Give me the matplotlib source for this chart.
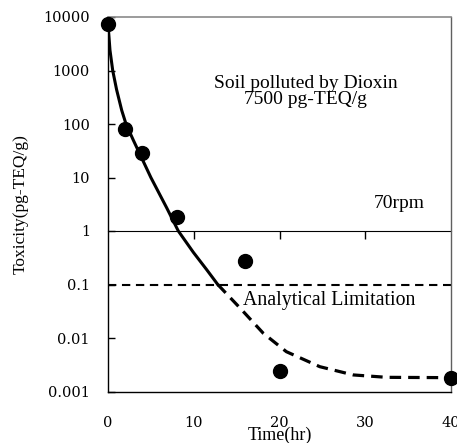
import matplotlib
matplotlib.use("Agg")
import matplotlib.pyplot as plt
from matplotlib.ticker import FixedLocator, FixedFormatter, NullLocator

# ---- data ----
time_hr = [0, 2, 4, 8, 16, 20, 40]
toxicity = [7500, 80, 29, 1.85, 0.275, 0.00245, 0.00178]

fit_solid_x = [0, 0.23, 0.55, 1.0, 1.6, 2.1, 2.95, 5.0, 6.85, 8.2, 9.95, 11.5, 12.8]
fit_solid_y = [7500, 2400, 1000, 440, 180, 100, 50, 10.0, 2.7, 1.0, 0.40, 0.19, 0.1]

fit_dash_x = [12.8, 15.4, 18.1, 20.8, 24.7, 28.6, 32.5, 38.3, 40]
fit_dash_y = [0.1, 0.0363, 0.0123, 0.00555, 0.00291, 0.00204, 0.00184, 0.00182, 0.0018]

analytical_limit = 0.1

y_ticks = [10000, 1000, 100, 10, 1, 0.1, 0.01, 0.001]
y_tick_labels = ["10000", "1000", "100", "10", "1", "0.1", "0.01", "0.001"]
x_ticks = [0, 10, 20, 30, 40]
x_tick_labels = ["0", "10", "20", "30", "40"]
mid_ticks = [10, 20, 30]

W, H = 457, 443
fig = plt.figure(figsize=(W / 100, H / 100), dpi=100)
L, R, T, B = 108, 451, 17, 391.5
ax = fig.add_axes([L / W, (H - B) / H, (R - L) / W, (B - T) / H])

ax.set_yscale("log")
ax.set_xlim(0, 40)
ax.set_ylim(0.001, 10000)

serif = "Liberation Serif"
tickfont = "DejaVu Serif"

# curves
ax.plot(fit_solid_x, fit_solid_y, color="black", lw=2.2, solid_joinstyle="round", zorder=3)
ax.plot(fit_dash_x, fit_dash_y, color="black", lw=2.3, dashes=(3.6, 2.2), zorder=3)
ax.axhline(analytical_limit, color="black", lw=1.5, dashes=(4, 2.7), zorder=2)

# markers
ax.plot(time_hr, toxicity, "o", color="black", ms=10, clip_on=False, zorder=5)

# axes styling
ax.yaxis.set_major_locator(FixedLocator(y_ticks))
ax.yaxis.set_major_formatter(FixedFormatter(y_tick_labels))
ax.yaxis.set_minor_locator(NullLocator())
ax.xaxis.set_major_locator(FixedLocator(x_ticks))
ax.xaxis.set_major_formatter(FixedFormatter(x_tick_labels))
ax.xaxis.set_minor_locator(NullLocator())
ax.tick_params(axis="y", direction="in", length=5, width=1, pad=13)
ax.tick_params(axis="x", length=0, pad=17.5)
for lab in ax.get_xticklabels() + ax.get_yticklabels():
    lab.set_fontfamily(tickfont)
    lab.set_fontsize(10.5)

ax.spines["left"].set_color("black")
ax.spines["bottom"].set_color("black")
ax.spines["left"].set_linewidth(1.0)
ax.spines["bottom"].set_linewidth(1.0)
ax.spines["top"].set_color("#8a8a8a")
ax.spines["right"].set_color("#606060")
ax.spines["top"].set_linewidth(1.2)
ax.spines["right"].set_linewidth(1.0)

# x-axis line crossing at y = 1 with upward ticks
sec = ax.secondary_xaxis(3 / 7)
sec.set_xticks(mid_ticks)
sec.tick_params(direction="out", length=6, width=1, labeltop=False, labelbottom=False)
sec.spines["top"].set_color("black")
sec.spines["top"].set_linewidth(1.1)
sec.xaxis.set_minor_locator(NullLocator())

# labels
ax.set_ylabel("Toxicity(pg-TEQ/g)", fontfamily=serif, fontsize=12.5)
ax.yaxis.label.set_va("center")
ax.yaxis.set_label_coords((21 - L) / (R - L), 0.5)
ax.set_xlabel("Time(hr)", fontfamily=serif, fontsize=13)
ax.xaxis.label.set_va("baseline")
ax.xaxis.set_label_coords(0.5, (B - 440) / (B - T))

def axy(py):
    return (B - py) / (B - T)

def axx(px):
    return (px - L) / (R - L)

ax.text(axx(306), axy(87.5), "Soil polluted by Dioxin", transform=ax.transAxes,
        ha="center", va="baseline", fontfamily=serif, fontsize=14)
ax.text(axx(305), axy(104.5), "7500 pg-TEQ/g", transform=ax.transAxes,
        ha="center", va="baseline", fontfamily=serif, fontsize=14)
ax.text(axx(399), axy(208), "70rpm", transform=ax.transAxes,
        ha="center", va="baseline", fontfamily=serif, fontsize=14)
ax.text(axx(329), axy(305), "Analytical Limitation", transform=ax.transAxes,
        ha="center", va="baseline", fontfamily=serif, fontsize=14.3)

fig.savefig("out.png", dpi=100)
